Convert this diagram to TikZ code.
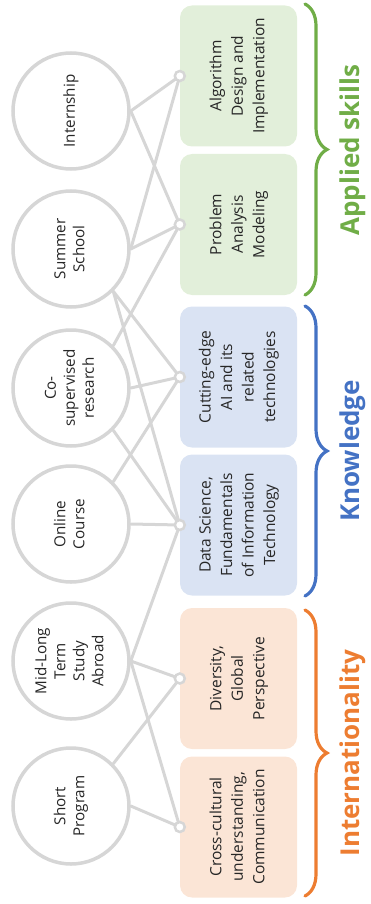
\documentclass[tikz,border=0pt]{standalone}
\usepackage{fontspec}
\setmainfont{Open Sans}
\usetikzlibrary{decorations.pathreplacing}

\definecolor{linegray}{HTML}{D6D6D6}
\definecolor{skillgreen}{HTML}{70AD47}
\definecolor{knowblue}{HTML}{4472C4}
\definecolor{intlorange}{HTML}{ED7D31}
\definecolor{skillfill}{HTML}{E2EFDA}
\definecolor{knowfill}{HTML}{DAE3F3}
\definecolor{intlfill}{HTML}{FBE5D6}

% text set bottom to top
\newcommand{\vtext}[1]{\rotatebox{90}{\begin{tabular}{@{}c@{}}#1\end{tabular}}}

\begin{document}
\begin{tikzpicture}[
    x=1pt, y=1pt,
    line cap=round,
    every node/.style={text=black!85},
    activity/.style={
        circle,
        draw=linegray,
        line width=3.5pt,
        fill=white,
        minimum size=116pt,
        inner sep=0pt,
        font=\fontsize{15.2}{19}\selectfont
    },
    outcome/.style={
        rounded corners=12pt,
        minimum width=117pt,
        minimum height=141pt,
        inner sep=0pt,
        font=\fontsize{15.5}{21.5}\selectfont
    },
    port/.style={circle, draw=linegray, line width=2.5pt, fill=white, minimum size=10pt, inner sep=0pt},
    link/.style={draw=linegray, line width=3pt},
    group/.style={decorate, decoration={brace, amplitude=22pt}, line width=3.2pt},
    heading/.style={rotate=90, font=\fontsize{26}{30}\selectfont\bfseries}
]
    \useasboundingbox (0,0) rectangle (371,-904);

    % Outcomes
    \node[outcome, fill=skillfill] (alg) at (238.5,-76) {\vtext{Algorithm\\Design and\\Implementation}};
    \node[outcome, fill=skillfill] (prob) at (238.5,-224.5) {\vtext{Problem\\Analysis\\Modeling}};
    \node[outcome, fill=knowfill] (cut) at (238.5,-377) {\vtext{Cutting-edge\\AI and its\\related\\technologies}};
    \node[outcome, fill=knowfill] (data) at (238.5,-525) {\vtext{Data Science,\\Fundamentals\\of Information\\Technology}};
    \node[outcome, fill=intlfill] (div) at (238.5,-678.5) {\vtext{Diversity,\\Global\\Perspective}};
    \node[outcome, fill=intlfill] (cross) at (238.5,-827) {\vtext{Cross-cultural\\understanding,\\Communication}};

    % Activities
    \node[activity] (int) at (71,-111) {\vtext{Internship}};
    \node[activity] (ss) at (71,-249) {\vtext{Summer\\School}};
    \node[activity] (co) at (71,-388) {\vtext{Co-\\supervised\\research}};
    \node[activity] (oc) at (71,-524) {\vtext{Online\\Course}};
    \node[activity] (ml) at (71,-661) {\vtext{Mid-Long\\Term\\Study\\Abroad}};
    \node[activity] (sp) at (71,-806) {\vtext{Short\\Program}};

    % Links
    \draw[link] (int.east) -- (alg.west);
    \draw[link] (int.east) -- (prob.west);
    \draw[link] (ss.east) -- (alg.west);
    \draw[link] (ss.east) -- (prob.west);
    \draw[link] (ss.-45) -- (cut.west);
    \draw[link] (ss.-45) -- (data.west);
    \draw[link] (co.45) -- (prob.west);
    \draw[link] (co.east) -- (cut.west);
    \draw[link] (co.-45) -- (data.west);
    \draw[link] (oc.45) -- (cut.west);
    \draw[link] (oc.east) -- (data.west);
    \draw[link] (ml.east) -- (data.west);
    \draw[link] (ml.east) -- (div.west);
    \draw[link] (ml.east) -- (cross.west);
    \draw[link] (sp.45) -- (div.west);
    \draw[link] (sp.east) -- (cross.west);

    % Ports
    \node[port] (palg) at (alg.west) {};
    \node[port] (pprob) at (prob.west) {};
    \node[port] (pcut) at (cut.west) {};
    \node[port] (pdata) at (data.west) {};
    \node[port] (pdiv) at (div.west) {};
    \node[port] (pcross) at (cross.west) {};

    % Groups
    \coordinate (g1a) at (305,-4);
    \coordinate (g1b) at (305,-295);
    \coordinate (g2a) at (305,-306);
    \coordinate (g2b) at (305,-596);
    \coordinate (g3a) at (305,-610);
    \coordinate (g3b) at (305,-896);
    \draw[group, skillgreen] (g1a) -- (g1b);
    \draw[group, knowblue] (g2a) -- (g2b);
    \draw[group, intlorange] (g3a) -- (g3b);

    \node[heading, text=skillgreen] (hskill) at (353,-150) {Applied skills};
    \node[heading, text=knowblue] (hknow) at (353,-451) {Knowledge};
    \node[heading, text=intlorange] (hintl) at (353,-753) {Internationality};
\end{tikzpicture}
\end{document}
